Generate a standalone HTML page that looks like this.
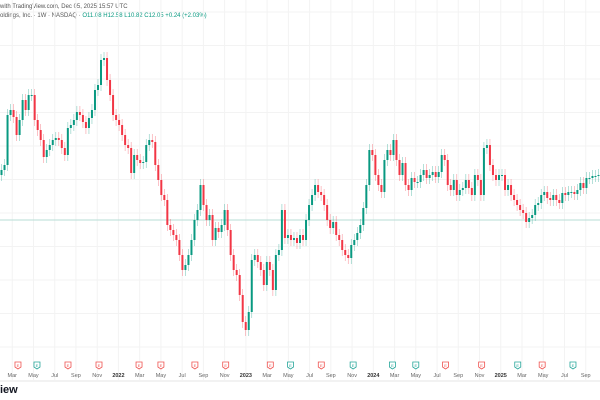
<!DOCTYPE html>
<html><head><meta charset="utf-8">
<style>
html,body{margin:0;padding:0;background:#fff;}
body{width:600px;height:400px;overflow:hidden;position:relative;font-family:"Liberation Sans",sans-serif;}
.hdr{position:absolute;left:0;font-size:6px;color:#555;white-space:nowrap;}
</style></head><body>
<div class="hdr" style="top:4px">with TradingView.com, Dec 05, 2025 15:57 UTC</div>
<div class="hdr" style="top:13px">oldings, Inc. · 1W · NASDAQ · <span style="color:#089981">O11.08 H12.58 L10.82 C12.05 +0.24 (+2.03%)</span></div>
<svg id="chart" width="600" height="400" style="position:absolute;left:0;top:0"></svg>
<div style="position:absolute;left:0;top:384px;font-size:11px;font-weight:bold;color:#131722">iew</div>
<script>
const closes=[19.0,19.5,24.5,25.0,24.3,22.5,24.0,26.0,25.0,26.5,26.5,24.0,23.0,22.0,20.3,21.0,21.5,22.0,22.2,22.0,21.2,20.5,23.2,23.5,24.0,24.8,24.5,23.8,23.2,24.2,25.0,27.0,27.5,30.0,30.2,28.0,26.5,24.5,24.0,23.5,22.5,21.5,21.2,18.7,20.5,20.0,19.7,19.8,21.5,22.0,21.8,19.5,18.0,16.5,16.0,13.5,13.0,12.5,12.0,10.5,9.0,9.5,10.5,12.0,14.0,15.0,17.5,15.5,
14.0,14.5,12.0,13.2,12.8,13.5,15.0,13.0,10.5,9.0,8.5,6.5,3.8,3.0,4.8,10.0,10.5,9.8,9.0,7.5,9.8,9.0,7.0,10.5,11.0,15.0,12.2,12.5,12.0,12.2,11.7,12.5,12.0,14.0,15.5,16.5,17.5,16.8,16.5,15.5,14.0,13.2,13.8,12.5,12.0,11.0,10.5,10.2,11.5,12.0,12.7,13.5,15.2,17.5,21.0,20.5,18.5,17.5,16.8,20.0,21.0,20.5,22.0,20.0,18.5,
19.7,17.5,17.0,18.2,17.8,17.8,18.5,19.0,18.2,18.5,18.8,18.3,18.8,20.5,20.0,17.5,17.0,18.0,16.5,17.0,17.2,18.0,17.2,16.5,18.5,18.0,16.5,21.2,21.5,19.5,18.5,18.0,18.5,18.5,17.0,17.5,16.5,16.0,15.5,15.0,14.7,13.8,14.2,14.5,15.5,15.7,16.5,16.8,16.2,16.0,16.5,16.0,15.7,16.7,16.5,16.8,16.8,16.6,17.0,17.7,17.2,18.2,18.2,18.4,18.4,18.5];
const refPrice=14.0;
const monthLabels=["Mar","May","Jul","Sep","Nov","2022","Mar","May","Jul","Sep","Nov","2023","Mar","May","Jul","Sep","Nov","2024","Mar","May","Jul","Sep","Nov","2025","Mar","May","Jul","Sep"];
const monthIdx=[2,4,6,8,10,12,14,16,18,20,22,24,26,28,30,32,34,36,38,40,42,44,46,48,50,52,54,56];
const earnIdx=[2.54,4.33,7.25,10.17,13.94,16.0,19.2,22.1,26.3,28.2,31.1,34.1,37.8,40.0,42.8,46.2,49.6,51.9,54.8];
const earnBeat=[0,1,0,0,0,0,0,0,0,1,0,1,1,1,0,0,1,0,1];

const svg=document.getElementById('chart');
const NS='http://www.w3.org/2000/svg';
const xStep=600/closes.length;
const xScale=i=>i*xStep+xStep/2;
const yScale=p=>360-p*10;
const monthX=m=>m*10.62-9;
function mk(t,a){const e=document.createElementNS(NS,t);for(const k in a)e.setAttribute(k,a[k]);svg.appendChild(e);return e;}
for(let m=0;m<monthIdx.length;m++){
 const l=mk('line',{x1:monthX(monthIdx[m]),x2:monthX(monthIdx[m]),y1:0,y2:380,stroke:'#f3f3f3','stroke-width':1});
 
 
}
for(let y=12;y<360;y+=33.5){
 const l=mk('line',{x1:0,x2:600,y1:y,y2:y,stroke:'#f3f3f3','stroke-width':1});
 
 
}
const ref=mk('line',{x1:0,x2:600,y1:yScale(refPrice),y2:yScale(refPrice),stroke:'#b7ddd6','stroke-width':1});


for(let i=0;i<closes.length;i++){
 const o=i>0?closes[i-1]:closes[0]-0.5, c=closes[i];
 const up=c>=o, col=up?'#089981':'#f23645';
 const hi=Math.max(o,c)+0.6, lo=Math.min(o,c)-0.6;
 const x=xScale(i);
 const w=mk('line',{x1:x,x2:x,y1:yScale(hi),y2:yScale(lo),stroke:col,'stroke-width':0.6,opacity:0.5});
 
 
 const top=yScale(Math.max(o,c)),h=Math.max(1,Math.abs(yScale(o)-yScale(c)));
 const b=mk('rect',{x:x-1,y:top,width:2,height:h,fill:col});
 
 
}
for(let m=0;m<monthLabels.length;m++){
 const bold=/^\d/.test(monthLabels[m]);
 const t=mk('text',{x:monthX(monthIdx[m]),y:377,'font-size':5.5,'text-anchor':'middle',fill:bold?'#333':'#666','font-weight':bold?'bold':'normal','font-family':'Liberation Sans, sans-serif'});
 t.textContent=monthLabels[m];
 
 
}
for(let k=0;k<earnIdx.length;k++){
 const x=monthX(earnIdx[k]),col=earnBeat[k]?'#26a69a':'#ef5350';
 const p=mk('path',{d:`M${x-3} 362 h6 v5 l-3 2 l-3 -2 z`,fill:'#fff',stroke:col,'stroke-width':0.8});
 
 
 const t=mk('text',{x:x,y:367,'font-size':4,'text-anchor':'middle',fill:col,'font-family':'Liberation Sans, sans-serif'});
 t.textContent='E';
 
 
}
const sep=mk('line',{x1:0,x2:600,y1:381,y2:381,stroke:'#e6e6e6','stroke-width':1});


</script>
</body></html>
